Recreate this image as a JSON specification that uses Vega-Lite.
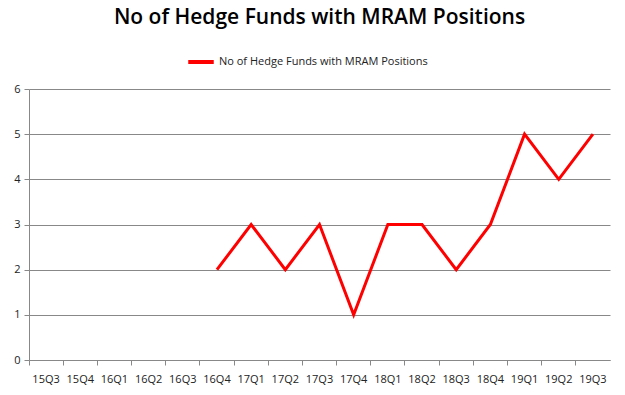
{
  "$schema": "https://vega.github.io/schema/vega-lite/v6.json",
  "width": 581,
  "height": 271,
  "autosize": "none",
  "padding": {"left": 29, "top": 89, "right": 15, "bottom": 35},
  "background": "white",
  "title": {
    "text": "No of Hedge Funds with MRAM Positions",
    "font": "Open Sans",
    "fontSize": 21,
    "fontWeight": 600,
    "color": "#000000",
    "anchor": "middle",
    "baseline": "alphabetic",
    "offset": 2
  },
  "data": {
    "values": [
      {"quarter": "15Q3", "funds": null, "series": "No of Hedge Funds with MRAM Positions"},
      {"quarter": "15Q4", "funds": null, "series": "No of Hedge Funds with MRAM Positions"},
      {"quarter": "16Q1", "funds": null, "series": "No of Hedge Funds with MRAM Positions"},
      {"quarter": "16Q2", "funds": null, "series": "No of Hedge Funds with MRAM Positions"},
      {"quarter": "16Q3", "funds": null, "series": "No of Hedge Funds with MRAM Positions"},
      {"quarter": "16Q4", "funds": 2, "series": "No of Hedge Funds with MRAM Positions"},
      {"quarter": "17Q1", "funds": 3, "series": "No of Hedge Funds with MRAM Positions"},
      {"quarter": "17Q2", "funds": 2, "series": "No of Hedge Funds with MRAM Positions"},
      {"quarter": "17Q3", "funds": 3, "series": "No of Hedge Funds with MRAM Positions"},
      {"quarter": "17Q4", "funds": 1, "series": "No of Hedge Funds with MRAM Positions"},
      {"quarter": "18Q1", "funds": 3, "series": "No of Hedge Funds with MRAM Positions"},
      {"quarter": "18Q2", "funds": 3, "series": "No of Hedge Funds with MRAM Positions"},
      {"quarter": "18Q3", "funds": 2, "series": "No of Hedge Funds with MRAM Positions"},
      {"quarter": "18Q4", "funds": 3, "series": "No of Hedge Funds with MRAM Positions"},
      {"quarter": "19Q1", "funds": 5, "series": "No of Hedge Funds with MRAM Positions"},
      {"quarter": "19Q2", "funds": 4, "series": "No of Hedge Funds with MRAM Positions"},
      {"quarter": "19Q3", "funds": 5, "series": "No of Hedge Funds with MRAM Positions"}
    ]
  },
  "mark": {"type": "line", "strokeWidth": 3, "strokeJoin": "miter"},
  "encoding": {
    "x": {
      "field": "quarter",
      "type": "ordinal",
      "bandPosition": 0.5,
      "scale": {
        "type": "band",
        "paddingInner": 0,
        "paddingOuter": 0,
        "domain": ["15Q3","15Q4","16Q1","16Q2","16Q3","16Q4","17Q1","17Q2","17Q3","17Q4","18Q1","18Q2","18Q3","18Q4","19Q1","19Q2","19Q3"]
      },
      "axis": {
        "title": null,
        "labelAngle": 0,
        "bandPosition": 0,
        "grid": false,
        "domainColor": "#888888",
        "tickColor": "#888888",
        "tickSize": 5,
        "labelFont": "Open Sans",
        "labelFontSize": 11,
        "labelColor": "#222222",
        "labelPadding": 8,
        "labelAlign": "center"
      }
    },
    "y": {
      "field": "funds",
      "type": "quantitative",
      "scale": {"domain": [0, 6], "nice": false},
      "axis": {
        "title": null,
        "values": [0, 1, 2, 3, 4, 5, 6],
        "grid": true,
        "gridColor": "#888888",
        "domainColor": "#888888",
        "tickColor": "#888888",
        "tickSize": 5,
        "labelFont": "Open Sans",
        "labelFontSize": 11,
        "labelColor": "#222222",
        "labelPadding": 4
      }
    },
    "color": {
      "field": "series",
      "type": "nominal",
      "scale": {"range": ["#ff0000"]},
      "legend": {
        "title": null,
        "orient": "none",
        "legendX": 157,
        "legendY": -42,
        "symbolType": "stroke",
        "symbolSize": 650,
        "symbolStrokeWidth": 4,
        "labelFont": "Open Sans",
        "labelFontSize": 11,
        "labelColor": "#222222",
        "labelOffset": 3,
        "labelLimit": 0
      }
    }
  },
  "config": {
    "view": {"stroke": null}
  }
}
